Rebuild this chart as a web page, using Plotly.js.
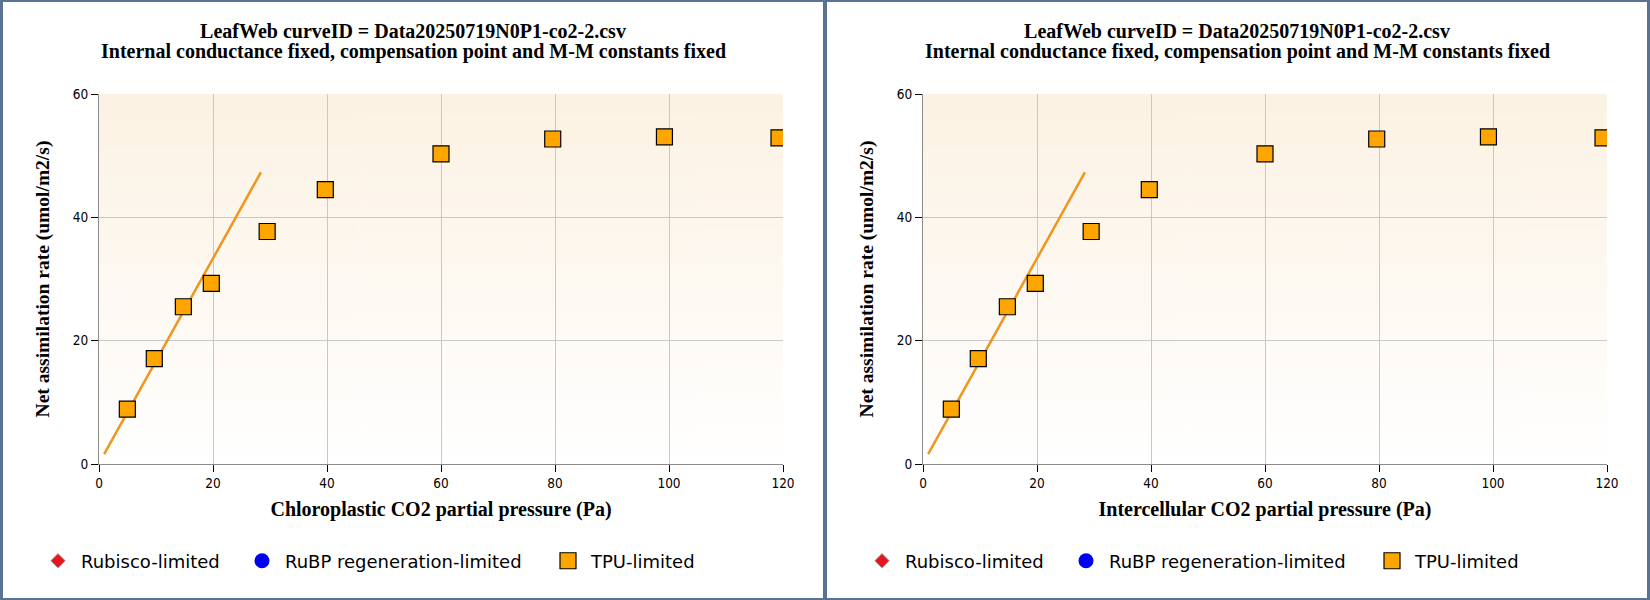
<!DOCTYPE html>
<html>
  <head>
    <meta charset="utf-8" />
    <title>LeafWeb A/C curve fit</title>
    <script src="https://cdn.plot.ly/plotly-3.0.1.min.js"></script>
    <style>
      body {
        margin: 0;
        padding: 0;
        width: 1650px;
        height: 600px;
        background-color: #5b7393;
        overflow: hidden;
        position: relative;
      }
      .panel {
        position: absolute;
        top: 2px;
        width: 820px;
        height: 596px;
        background-color: white;
      }
      #leftPanel { left: 3px; }
      #rightPanel { left: 827px; }
    </style>
  </head>
  <body>
    <div id="leftPanel" class="panel"></div>
    <div id="rightPanel" class="panel"></div>
    <script>
      // measured points (CO2 partial pressure, Pa / net assimilation, umol/m2/s)
      const co2_pa = [4.97, 9.7, 14.8, 19.7, 29.5, 39.7, 60.0, 79.6, 99.2, 119.3];
      const net_a = [8.9, 17.1, 25.5, 29.3, 37.7, 44.5, 50.3, 52.7, 53.05, 52.9];

      // fitted limitation line
      const fit_x = [0.9, 28.4];
      const fit_y = [1.6, 47.3];

      const title_line1 = "LeafWeb curveID = Data20250719N0P1-co2-2.csv";
      const title_line2 = "Internal conductance fixed, compensation point and M-M constants fixed";
      const y_title = "Net assimilation rate (umol/m2/s)";
      const x_titles = [
        "Chloroplastic CO2 partial pressure (Pa)",
        "Intercellular CO2 partial pressure (Pa)",
      ];
      const legend_names = ["Rubisco-limited", "RuBP regeneration-limited", "TPU-limited"];

      const serif = "Liberation Serif, Times New Roman, serif";
      const sans = "DejaVu Sans, Verdana, sans-serif";
      const tick_family = "DejaVu Sans Condensed, Tahoma, sans-serif";

      const W = 820, H = 596;
      const M = { l: 96, r: 40, t: 92, b: 134 };

      function makeGradient() {
        const c = document.createElement("canvas");
        c.width = 4;
        c.height = 256;
        const ctx = c.getContext("2d");
        const g = ctx.createLinearGradient(0, 0, 0, 256);
        g.addColorStop(0, "#fcf2e3");
        g.addColorStop(1, "#ffffff");
        ctx.fillStyle = g;
        ctx.fillRect(0, 0, 4, 256);
        return c.toDataURL();
      }
      const bg_src = makeGradient();

      function buildTraces() {
        return [
          {
            x: fit_x,
            y: fit_y,
            mode: "lines",
            line: { color: "#f0961e", width: 2.5 },
            hoverinfo: "none",
            showlegend: false,
          },
          {
            x: [null],
            y: [null],
            name: legend_names[0],
            mode: "markers",
            marker: { symbol: "diamond", size: 11, color: "#e8141e", line: { width: 1, color: "#999999" } },
            legend: "legend",
          },
          {
            x: [null],
            y: [null],
            name: legend_names[1],
            mode: "markers",
            marker: { symbol: "circle", size: 15, color: "#0000f0", line: { width: 0 } },
            legend: "legend2",
          },
          {
            x: co2_pa,
            y: net_a,
            name: legend_names[2],
            mode: "markers",
            marker: { symbol: "square", size: 16, color: "#ffa500", line: { width: 1.2, color: "black" } },
            legend: "legend3",
          },
        ];
      }

      function legendAt(x) {
        return {
          x: x,
          y: 0.062,
          xref: "container",
          yref: "container",
          xanchor: "left",
          yanchor: "middle",
          orientation: "h",
          itemwidth: 36,
          font: { family: sans, size: 18, color: "black" },
          bgcolor: "rgba(0,0,0,0)",
        };
      }

      function axisBase() {
        return {
          dtick: 20,
          showgrid: true,
          gridcolor: "#c8c8c8",
          zeroline: false,
          showline: true,
          linecolor: "#8c8c8c",
          ticks: "outside",
          ticklen: 7,
          tickcolor: "black",
          tickfont: { family: tick_family, size: 13.5, color: "black" },
          automargin: true,
        };
      }

      function buildLayout(xTitle) {
        const plotW = W - M.l - M.r;
        const plotH = H - M.t - M.b;
        return {
          width: W,
          height: H,
          margin: M,
          paper_bgcolor: "white",
          plot_bgcolor: "rgba(0,0,0,0)",
          title: {
            text: title_line1,
            font: { family: serif, size: 20, color: "black", weight: "bold" },
            xref: "container",
            x: 0.5,
            xanchor: "center",
            yref: "container",
            y: 1 - 28.5 / H,
            yanchor: "middle",
          },
          annotations: [
            {
              text: title_line2,
              font: { family: serif, size: 20, color: "black", weight: "bold" },
              xref: "paper",
              yref: "paper",
              x: (W / 2 - M.l) / plotW,
              y: 1 + (M.t - 49.5) / plotH,
              xanchor: "center",
              yanchor: "middle",
              showarrow: false,
            },
          ],
          xaxis: Object.assign(axisBase(), {
            range: [0, 120],
            title: {
              text: xTitle,
              font: { family: serif, size: 20, color: "black", weight: "bold" },
              standoff: 11,
            },
          }),
          yaxis: Object.assign(axisBase(), {
            range: [0, 60],
            title: {
              text: y_title,
              font: { family: serif, size: 19.5, color: "black", weight: "bold" },
              standoff: 18,
            },
          }),
          images: [
            {
              source: bg_src,
              xref: "paper",
              yref: "paper",
              x: 0,
              y: 1,
              sizex: 1,
              sizey: 1,
              sizing: "stretch",
              xanchor: "left",
              yanchor: "top",
              layer: "below",
            },
          ],
          legend: legendAt(32 / W),
          legend2: legendAt(236 / W),
          legend3: legendAt(542 / W),
        };
      }

      const config = { displayModeBar: false, staticPlot: true };

      Plotly.newPlot("leftPanel", buildTraces(), buildLayout(x_titles[0]), config);
      Plotly.newPlot("rightPanel", buildTraces(), buildLayout(x_titles[1]), config);
    </script>
  </body>
</html>
